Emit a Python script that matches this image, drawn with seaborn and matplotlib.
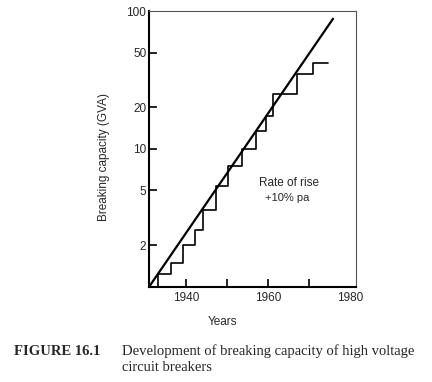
import numpy as np
import pandas as pd
import matplotlib
matplotlib.use("Agg")
import matplotlib.pyplot as plt
import seaborn as sns

# --- data ---
step_years = [1931, 1933.3, 1936.4, 1939.4, 1942.2, 1944.1, 1947.3, 1950.3,
              1953.8, 1957.0, 1959.5, 1961.3, 1967.0, 1970.9, 1974.7]
step_values = [1.0, 1.25, 1.5, 2.0, 2.6, 3.6, 5.4, 7.5,
               10.0, 13.6, 17.4, 25.0, 35.0, 42.0, 42.0]

trend_years = [1931, 1975.9]
trend_values = [1.0, 88.0]

y_ticks = [2, 5, 10, 20, 50, 100]
x_ticks = [1940, 1950, 1960, 1970, 1980]
x_ticklabels = ['1940', '', '1960', '', '1980']

steps = pd.DataFrame({'year': step_years, 'cap': step_values})
trend = pd.DataFrame({'year': trend_years, 'cap': trend_values})

sns.set_style("ticks")
plt.rcParams['font.family'] = ['Liberation Sans', 'DejaVu Sans']

fig = plt.figure(figsize=(4.32, 3.82), dpi=100)
ax = fig.add_axes([0.345, 0.249, 0.479, 0.722])

sns.lineplot(data=steps, x='year', y='cap', ax=ax, color='black', lw=1.2,
             estimator=None, drawstyle='steps-post')
sns.lineplot(data=trend, x='year', y='cap', ax=ax, color='black', lw=1.6,
             estimator=None)

ax.set_yscale('log')
ax.set_ylim(1, 100)
ax.set_xlim(1931, 1981.5)
ax.set_yticks(y_ticks)
ax.set_yticklabels([str(t) for t in y_ticks])
ax.minorticks_off()
ax.set_xticks(x_ticks)
ax.set_xticklabels(x_ticklabels)
ax.xaxis.get_major_ticks()[-1].tick1line.set_visible(False)
ax.yaxis.get_major_ticks()[-1].tick1line.set_visible(False)

ax.tick_params(direction='in', length=6, width=1.2, labelsize=8.5, color='black')
ax.tick_params(axis='y', pad=2)
ax.tick_params(axis='x', pad=4)

for side in ['left', 'bottom']:
    ax.spines[side].set_linewidth(1.5)
    ax.spines[side].set_color('black')
for side in ['top', 'right']:
    ax.spines[side].set_visible(True)
    ax.spines[side].set_linewidth(0.8)
    ax.spines[side].set_color('#555555')

ax.set_xlabel('Years', fontsize=8.5)
ax.set_ylabel('Breaking capacity (GVA)', fontsize=8.5)
ax.xaxis.set_label_coords(0.353, -0.105)
ax.yaxis.set_label_coords(-0.188, 0.47)

ax.text(0.677, 0.377, 'Rate of rise', transform=ax.transAxes,
        ha='center', va='center', fontsize=8.5)
ax.text(0.667, 0.322, '+10% pa', transform=ax.transAxes,
        ha='center', va='center', fontsize=8)

serif = ['Liberation Serif', 'DejaVu Serif']
fig.text(0.032, 0.081, 'FIGURE 16.1', family=serif, fontweight='bold',
         fontsize=10.5, va='center', ha='left')
fig.text(0.282, 0.081, 'Development of breaking capacity of high voltage',
         family=serif, fontsize=10.5, va='center', ha='left')
fig.text(0.282, 0.037, 'circuit breakers', family=serif, fontsize=10.5,
         va='center', ha='left')

fig.savefig('out.png', dpi=100)
